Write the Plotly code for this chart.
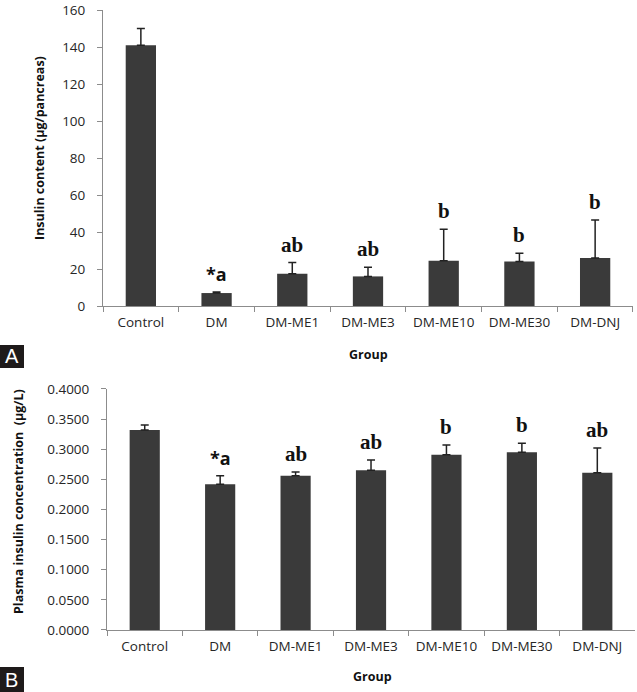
import plotly.graph_objects as go

groups = ["Control", "DM", "DM-ME1", "DM-ME3", "DM-ME10", "DM-ME30", "DM-DNJ"]

content_mean = [141, 7, 17.5, 16, 24.5, 24, 26]
content_err = [9, 0.5, 6, 5, 17, 4.5, 20.5]
content_sig = ["", "*a", "ab", "ab", "b", "b", "b"]

plasma_mean = [0.332, 0.242, 0.256, 0.265, 0.291, 0.295, 0.261]
plasma_err = [0.008, 0.014, 0.006, 0.017, 0.016, 0.015, 0.041]
plasma_sig = ["", "*a", "ab", "ab", "b", "b", "ab"]

y1_ticks = [0, 20, 40, 60, 80, 100, 120, 140, 160]
y2_ticks = [0.0, 0.05, 0.10, 0.15, 0.20, 0.25, 0.30, 0.35, 0.40]

BAR = "#3a3a3a"
AX = "#8c8c8c"
TICKFONT = dict(family="Open Sans", size=13.5, color="#262626")

fig = go.Figure()

fig.add_trace(go.Bar(
    x=groups, y=content_mean, marker=dict(color=BAR, line=dict(width=0)),
    error_y=dict(type="data", symmetric=False, array=content_err,
                 arrayminus=[0] * len(groups), color="#222", thickness=1.5, width=4),
    xaxis="x", yaxis="y", showlegend=False))

fig.add_trace(go.Bar(
    x=groups, y=plasma_mean, marker=dict(color=BAR, line=dict(width=0)),
    error_y=dict(type="data", symmetric=False, array=plasma_err,
                 arrayminus=[0] * len(groups), color="#222", thickness=1.5, width=4),
    xaxis="x2", yaxis="y2", showlegend=False))

axis_common = dict(showgrid=False, zeroline=False, showline=True, linecolor=AX,
                   linewidth=1, ticks="outside", tickcolor=AX, ticklen=5, tickfont=TICKFONT,
                   automargin=False)

fig.update_layout(
    width=637, height=692,
    margin=dict(l=0, r=0, t=0, b=0),
    paper_bgcolor="white", plot_bgcolor="white",
    bargap=0.6,
    xaxis=dict(domain=[0.1617, 0.9937], anchor="y", tickson="boundaries",
               ticklabelstandoff=4, **axis_common),
    yaxis=dict(domain=[0.5578, 0.9855], anchor="x", range=[0, 160], tickvals=y1_ticks,
               ticklabelstandoff=9, **axis_common),
    xaxis2=dict(domain=[0.168, 0.9969], anchor="y2", tickson="boundaries",
                ticklabelstandoff=4, **axis_common),
    yaxis2=dict(domain=[0.0896, 0.4379], anchor="x2", range=[0, 0.4], tickvals=y2_ticks,
                tickformat=".4f", ticklabelstandoff=9, **axis_common),
)

ann = []
# significance letters
for xa, ya, means, errs, sigs in (("x", "y", content_mean, content_err, content_sig),
                                  ("x2", "y2", plasma_mean, plasma_err, plasma_sig)):
    for g, m, e, s in zip(groups, means, errs, sigs):
        if s:
            serif = s != "*a"
            ann.append(dict(x=g, y=m + e, xref=xa, yref=ya, text="<b>%s</b>" % s,
                            showarrow=False, xanchor="center", yanchor="bottom", yshift=4,
                            font=dict(family="Liberation Serif" if serif else "Open Sans",
                                      size=21 if serif else 18, color="#111")))

title_font = dict(family="Open Sans", size=12.5, color="#111")


def paper_text(px, py, text, font, angle=0):
    return dict(x=px / 637, y=1 - py / 692, xref="paper", yref="paper", text=text,
                textangle=angle, showarrow=False, xanchor="center", yanchor="middle",
                font=font)


ann += [
    paper_text(368, 355, "<b>Group</b>", title_font),
    paper_text(373, 676, "<b>Group</b>", title_font),
    paper_text(40, 148, "<b>Insulin content (µg/pancreas)</b>", title_font, -90),
    paper_text(18, 502, "<b>Plasma insulin concentration  (µg/L)</b>", title_font, -90),
    paper_text(12, 356, "A", dict(family="Liberation Sans", size=20, color="white")),
    paper_text(12, 680, "B", dict(family="Liberation Sans", size=20, color="white")),
]
fig.update_layout(annotations=ann)

fig.update_layout(shapes=[
    dict(type="rect", xref="paper", yref="paper", x0=0, x1=24 / 637,
         y0=1 - 368 / 692, y1=1 - 345 / 692, fillcolor="#1e1a1a", line=dict(width=0),
         layer="above"),
    dict(type="rect", xref="paper", yref="paper", x0=0, x1=24 / 637,
         y0=0, y1=1 - 667 / 692, fillcolor="#1e1a1a", line=dict(width=0), layer="above"),
])

fig.write_html("out.html", config={"displayModeBar": False},
               post_script="document.body.style.margin='0';document.body.style.overflow='hidden';")
